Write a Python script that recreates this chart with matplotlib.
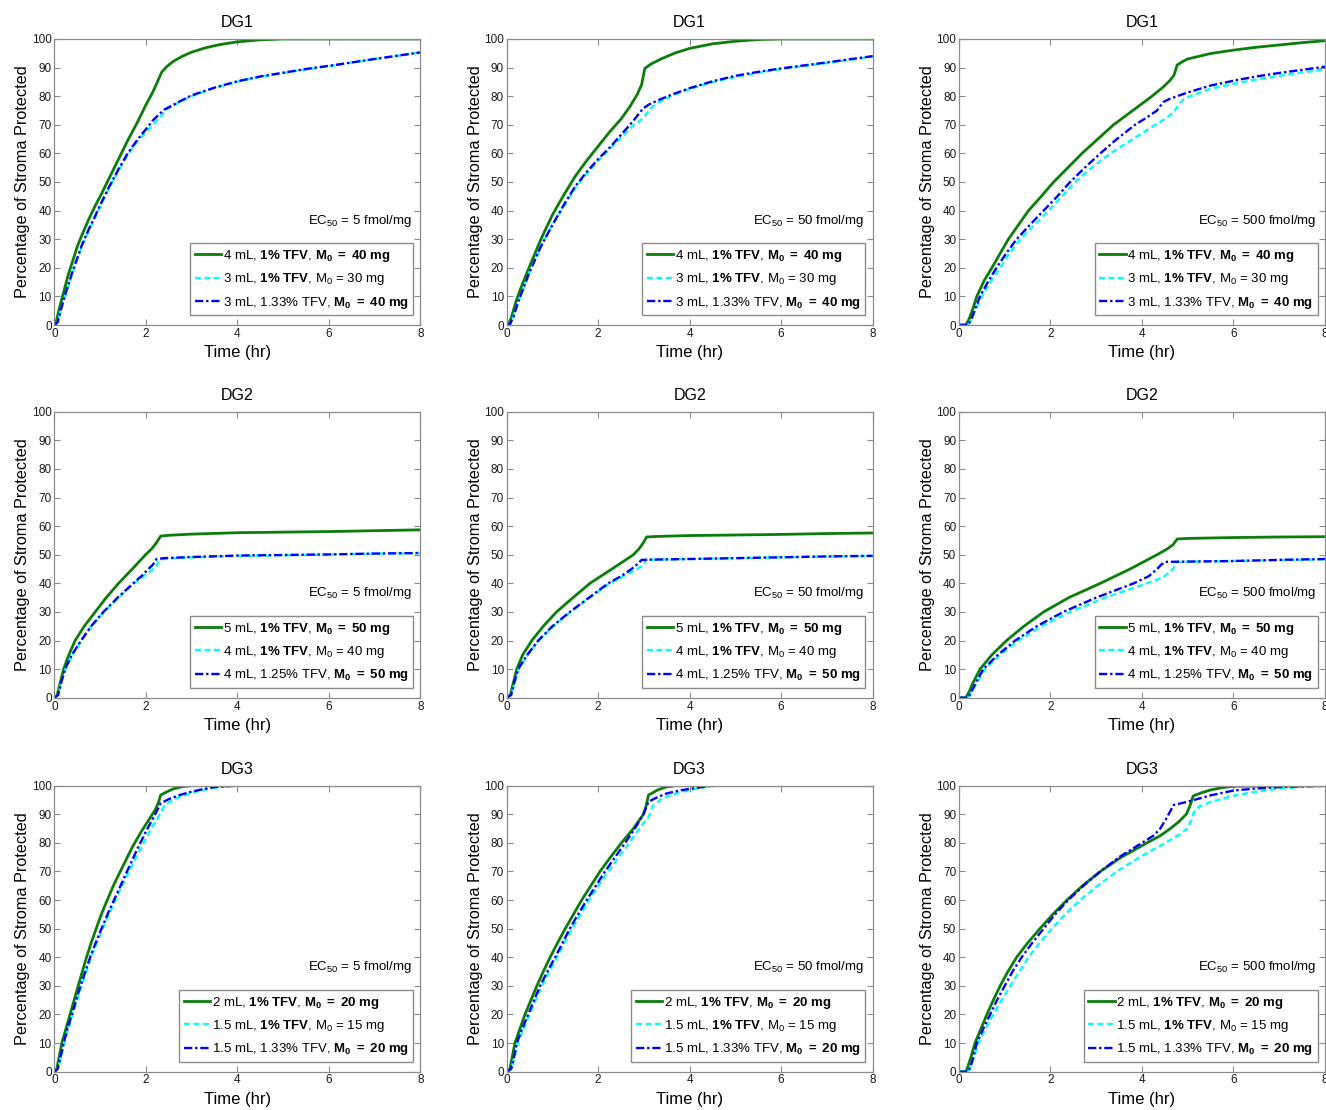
import numpy as np
import matplotlib
matplotlib.use("Agg")
import matplotlib.pyplot as plt

plt.rcParams['font.family'] = ['Liberation Sans', 'DejaVu Sans']
plt.rcParams['mathtext.fontset'] = 'custom'
plt.rcParams['mathtext.rm'] = 'Liberation Sans'
plt.rcParams['mathtext.it'] = 'Liberation Sans:italic'
plt.rcParams['mathtext.bf'] = 'Liberation Sans:bold'

# (time in hr, percent of stroma protected) along each curve
# --- DG1 ---
dg1_ec5_green = [(0, 0), (0.05, 2), (0.1, 5.5), (0.2, 11.5), (0.3, 17.5), (0.4, 22.5), (0.5, 27.5),
                 (0.6, 31.5), (0.75, 37), (0.9, 42), (1.0, 45), (1.2, 51.5), (1.4, 58), (1.6, 64.5),
                 (1.8, 70.5), (2.0, 77), (2.15, 81.5), (2.25, 85), (2.34, 88.3), (2.45, 90.3), (2.6, 92.2),
                 (2.8, 94), (3.0, 95.4), (3.3, 96.9), (3.6, 98), (4.0, 99), (4.5, 99.7), (5.0, 100), (8.0, 100)]
dg1_ec5_cyan = [(0, 0), (0.07, 1), (0.15, 6), (0.25, 11), (0.4, 18.5), (0.5, 23), (0.6, 27.5), (0.75, 33),
                (0.9, 38), (1.0, 41.5), (1.2, 48), (1.4, 54), (1.6, 59.5), (1.8, 64), (2.0, 67.5),
                (2.15, 70), (2.3, 72.5), (2.45, 75.3), (2.6, 76.8), (2.8, 78.5), (3.0, 80.1), (3.5, 82.9),
                (4.0, 85.1), (4.5, 86.8), (5.0, 88.1), (5.5, 89.4), (6.0, 90.5), (7.0, 93), (8.0, 95.3)]
dg1_ec5_blue = [(0, 0), (0.07, 1), (0.15, 6), (0.25, 11.5), (0.4, 19), (0.5, 23.5), (0.6, 28), (0.75, 33.5),
                (0.9, 38.5), (1.0, 42), (1.2, 48.5), (1.4, 54.5), (1.6, 60), (1.8, 64.5), (2.0, 68.5),
                (2.15, 71.5), (2.27, 73.4), (2.4, 75.3), (2.6, 77), (2.8, 78.7), (3.0, 80.3), (3.5, 83),
                (4.0, 85.2), (4.5, 86.9), (5.0, 88.2), (5.5, 89.5), (6.0, 90.6), (7.0, 93), (8.0, 95.3)]

dg1_ec50_green = [(0, 0), (0.05, 0.5), (0.1, 2.5), (0.2, 8), (0.3, 12.5), (0.5, 20.5), (0.75, 30), (1.0, 38.5),
                  (1.25, 45.5), (1.5, 52), (1.75, 57.5), (2.0, 62.5), (2.25, 67.5), (2.5, 72), (2.7, 76.5),
                  (2.85, 80.5), (2.95, 84), (3.02, 89.7), (3.15, 91.2), (3.4, 93.2), (3.7, 95.2), (4.0, 96.7),
                  (4.5, 98.3), (5.0, 99.2), (5.5, 99.8), (6.0, 100), (8.0, 100)]
dg1_ec50_cyan = [(0, 0), (0.08, 0.5), (0.15, 3), (0.25, 8), (0.5, 18.5), (0.75, 27.5), (1.0, 35), (1.25, 41.5),
                 (1.5, 48), (1.75, 53), (2.0, 57.5), (2.25, 61.5), (2.5, 65.5), (2.75, 69.5), (3.0, 72.5),
                 (3.06, 74), (3.15, 75.8), (3.3, 77.6), (3.6, 80.1), (4.0, 82.5), (4.5, 84.9), (5.0, 86.8),
                 (5.5, 88.2), (6.0, 89.5), (7.0, 91.6), (8.0, 93.8)]
dg1_ec50_blue = [(0, 0), (0.08, 0.5), (0.15, 3), (0.25, 8), (0.5, 18.5), (0.75, 27.5), (1.0, 35), (1.25, 42),
                 (1.5, 48.5), (1.75, 53.5), (2.0, 58), (2.25, 62), (2.5, 66.5), (2.75, 71), (2.97, 75.5),
                 (3.1, 77), (3.3, 78.5), (3.6, 80.5), (4.0, 82.8), (4.5, 85.2), (5.0, 87.1), (5.5, 88.5),
                 (6.0, 89.7), (7.0, 91.8), (8.0, 94)]

dg1_ec500_green = [(0, 0), (0.15, 0), (0.22, 2), (0.3, 5.5), (0.39, 10), (0.55, 15.5), (0.72, 20), (0.9, 25),
                   (1.08, 30), (1.3, 35), (1.52, 40), (1.8, 45), (2.07, 50), (2.38, 55), (2.69, 60), (3.0, 64.5),
                   (3.38, 70), (3.8, 75), (4.22, 80), (4.45, 83), (4.6, 85.3), (4.7, 87.3), (4.77, 90.9),
                   (4.9, 92.2), (5.0, 93), (5.5, 94.9), (6.0, 96.1), (6.5, 97.1), (7.0, 97.9), (7.5, 98.7),
                   (8.0, 99.4)]
dg1_ec500_cyan = [(0, 0), (0.2, 0), (0.27, 2), (0.37, 5.5), (0.5, 10), (0.68, 15), (0.9, 20), (1.1, 25),
                  (1.34, 30), (1.65, 35), (1.96, 40), (2.25, 45), (2.54, 50), (2.9, 55), (3.31, 60), (3.8, 65),
                  (4.29, 70), (4.55, 72.5), (4.7, 74.5), (4.8, 77), (4.9, 78.8), (5.06, 80), (5.5, 82.6),
                  (6.0, 84.3), (6.5, 85.8), (7.0, 87.1), (7.5, 88.3), (8.0, 89.3)]
dg1_ec500_blue = [(0, 0), (0.2, 0), (0.27, 2), (0.35, 5.5), (0.46, 10), (0.63, 15), (0.82, 20), (1.03, 25),
                  (1.26, 30), (1.55, 35), (1.85, 40), (2.15, 45), (2.43, 50), (2.75, 55), (3.09, 60), (3.45, 65),
                  (3.85, 70), (4.1, 72.5), (4.33, 75), (4.47, 78), (4.6, 79), (4.77, 80), (5.0, 81.3),
                  (5.5, 83.7), (6.0, 85.4), (6.5, 86.9), (7.0, 88.1), (7.5, 89.2), (8.0, 90.3)]

# --- DG2 ---
dg2_ec5_green = [(0, 0), (0.06, 1), (0.12, 5), (0.2, 10), (0.3, 14.5), (0.45, 20), (0.65, 25), (0.89, 30),
                 (1.13, 35), (1.4, 40), (1.7, 45), (1.99, 50), (2.12, 52), (2.22, 54), (2.32, 56.5), (2.5, 56.8),
                 (3.0, 57.2), (4.0, 57.7), (5.0, 57.9), (6.0, 58.1), (7.0, 58.4), (8.0, 58.7)]
dg2_ec5_cyan = [(0, 0), (0.08, 1), (0.15, 5.5), (0.24, 10), (0.39, 15), (0.59, 20), (0.81, 25), (1.08, 30),
                (1.4, 35), (1.74, 40), (1.95, 42.5), (2.12, 44.5), (2.22, 46), (2.3, 48.3), (2.5, 48.7),
                (3.0, 49.1), (4.0, 49.6), (5.0, 49.8), (6.0, 50.1), (7.0, 50.4), (8.0, 50.6)]
dg2_ec5_blue = [(0, 0), (0.08, 1), (0.15, 5.5), (0.23, 10), (0.38, 15), (0.58, 20), (0.8, 25), (1.07, 30),
                (1.38, 35), (1.72, 40), (1.9, 42.5), (2.05, 45), (2.15, 46.5), (2.23, 48.5), (2.4, 48.8),
                (3.0, 49.2), (4.0, 49.7), (5.0, 49.9), (6.0, 50.1), (7.0, 50.4), (8.0, 50.6)]

dg2_ec50_green = [(0, 0), (0.08, 1), (0.15, 5.5), (0.22, 10), (0.35, 15), (0.55, 20), (0.8, 25), (1.09, 30),
                  (1.45, 35), (1.82, 40), (2.3, 45), (2.77, 50), (2.89, 52), (2.98, 54), (3.06, 56.2),
                  (3.3, 56.4), (4.0, 56.7), (5.0, 56.9), (6.0, 57.1), (7.0, 57.4), (8.0, 57.6)]
dg2_ec50_cyan = [(0, 0), (0.1, 1), (0.18, 5.5), (0.26, 10), (0.46, 15), (0.7, 20), (1.02, 25), (1.4, 30),
                 (1.82, 35), (2.25, 40), (2.55, 42.5), (2.8, 44.5), (2.95, 46), (3.06, 48.2), (3.3, 48.3),
                 (4.0, 48.5), (5.0, 48.8), (6.0, 49.1), (7.0, 49.4), (8.0, 49.6)]
dg2_ec50_blue = [(0, 0), (0.1, 1), (0.17, 5.5), (0.25, 10), (0.45, 15), (0.69, 20), (1.0, 25), (1.38, 30),
                 (1.8, 35), (2.22, 40), (2.5, 42.5), (2.73, 45), (2.88, 47), (2.95, 48.2), (3.2, 48.3),
                 (4.0, 48.5), (5.0, 48.8), (6.0, 49.1), (7.0, 49.4), (8.0, 49.6)]

dg2_ec500_green = [(0, 0), (0.15, 0), (0.22, 2), (0.3, 5), (0.46, 10), (0.72, 15), (1.04, 20), (1.42, 25),
                   (1.85, 30), (2.4, 35), (3.09, 40), (3.74, 45), (4.33, 50), (4.55, 52), (4.68, 53.5),
                   (4.77, 55.5), (5.0, 55.7), (6.0, 56), (7.0, 56.2), (8.0, 56.3)]
dg2_ec500_cyan = [(0, 0), (0.2, 0), (0.27, 2), (0.38, 5), (0.57, 10), (0.9, 15), (1.3, 20), (1.8, 25),
                  (2.43, 30), (3.2, 35), (4.11, 40), (4.45, 42), (4.62, 44), (4.72, 46), (4.77, 47.5),
                  (5.0, 47.6), (6.0, 47.8), (7.0, 48.1), (8.0, 48.4)]
dg2_ec500_blue = [(0, 0), (0.2, 0), (0.27, 2), (0.36, 5), (0.53, 10), (0.85, 15), (1.23, 20), (1.7, 25),
                  (2.28, 30), (3.0, 35), (3.82, 40), (4.15, 42.5), (4.33, 45), (4.42, 46.5), (4.51, 47.5),
                  (5.0, 47.6), (6.0, 47.8), (7.0, 48.2), (8.0, 48.5)]

# --- DG3 ---
dg3_ec5_green = [(0, 0), (0.05, 1), (0.1, 5), (0.16, 10), (0.25, 15), (0.34, 20), (0.42, 24.5), (0.5, 29),
                 (0.6, 34.5), (0.7, 40), (0.8, 45), (0.9, 49.5), (1.0, 54), (1.1, 58), (1.3, 65.5), (1.5, 72),
                 (1.7, 78.5), (1.9, 84), (2.1, 89), (2.2, 91.5), (2.27, 94), (2.32, 96.7), (2.45, 97.8),
                 (2.6, 98.9), (2.8, 99.7), (3.0, 100), (8.0, 100)]
dg3_ec5_cyan = [(0, 0), (0.07, 1), (0.14, 5), (0.21, 10), (0.31, 15.5), (0.41, 21), (0.5, 25.5), (0.61, 31),
                (0.81, 40.5), (1.0, 48), (1.2, 55.5), (1.4, 62.5), (1.6, 69), (1.8, 75.5), (2.0, 81.5),
                (2.15, 86), (2.25, 88.5), (2.32, 90.5), (2.4, 93), (2.6, 95.2), (3.0, 97.6),
                (3.5, 99.3), (3.8, 99.9), (4.0, 100), (8.0, 100)]
dg3_ec5_blue = [(0, 0), (0.07, 1), (0.13, 5), (0.2, 10), (0.3, 16), (0.4, 21), (0.5, 26.5), (0.6, 31.5),
                (0.8, 41), (1.0, 49), (1.2, 56.5), (1.4, 63.5), (1.6, 70.5), (1.8, 77.5), (2.0, 84),
                (2.2, 90), (2.32, 93.8), (2.5, 95.3), (2.75, 96.8), (3.0, 97.9), (3.25, 98.8), (3.5, 99.5),
                (4.0, 100), (8.0, 100)]

dg3_ec50_green = [(0, 0), (0.07, 1), (0.12, 5), (0.18, 10), (0.29, 15), (0.4, 20), (0.53, 25), (0.66, 30),
                  (0.8, 35), (0.95, 40), (1.11, 45), (1.28, 50), (1.46, 55), (1.64, 60), (1.84, 65), (2.04, 70),
                  (2.27, 75), (2.51, 80), (2.77, 85), (2.99, 90), (3.05, 93), (3.1, 96.7), (3.3, 98.5),
                  (3.5, 99.6), (3.7, 100), (8.0, 100)]
dg3_ec50_cyan = [(0, 0), (0.1, 1), (0.17, 5), (0.24, 10), (0.37, 15), (0.5, 20), (0.63, 25), (0.77, 30),
                 (0.93, 35), (1.1, 40), (1.26, 45), (1.43, 50), (1.61, 55), (1.8, 60), (2.0, 65), (2.22, 70),
                 (2.45, 75), (2.68, 80), (2.9, 85), (3.1, 89), (3.2, 93), (3.35, 95), (3.5, 96.2), (3.75, 97.5),
                 (4.0, 98.5), (4.3, 99.4), (4.6, 100), (8.0, 100)]
dg3_ec50_blue = [(0, 0), (0.1, 1), (0.16, 5), (0.22, 10), (0.34, 15), (0.47, 20), (0.6, 25), (0.73, 30),
                 (0.89, 35), (1.06, 40), (1.22, 45), (1.38, 50), (1.56, 55), (1.75, 60), (1.95, 65), (2.15, 70),
                 (2.37, 75), (2.59, 80), (2.8, 85), (2.99, 90), (3.1, 94.4), (3.3, 96), (3.5, 97.3),
                 (3.75, 98.2), (4.0, 98.9), (4.5, 100), (8.0, 100)]

dg3_ec500_green = [(0, 0), (0.15, 0), (0.2, 2), (0.26, 5), (0.35, 10), (0.48, 15), (0.61, 20), (0.75, 25),
                   (0.9, 30), (1.07, 35), (1.26, 40), (1.5, 45), (1.77, 50), (2.05, 55), (2.36, 60), (2.7, 65),
                   (3.09, 70), (3.55, 75), (4.11, 80), (4.4, 82.5), (4.62, 85), (4.8, 87.3), (4.97, 90),
                   (5.05, 93), (5.12, 96.4), (5.3, 97.5), (5.5, 98.5), (5.75, 99.3), (6.0, 99.8), (8.0, 100)]
dg3_ec500_cyan = [(0, 0), (0.2, 0), (0.26, 2), (0.33, 5), (0.42, 10), (0.58, 15), (0.75, 20), (0.93, 25),
                  (1.12, 30), (1.32, 35), (1.52, 40), (1.76, 45), (2.03, 50), (2.32, 55), (2.65, 60), (3.03, 65),
                  (3.45, 70), (3.95, 75), (4.51, 80), (4.78, 82.5), (4.99, 85), (5.08, 88), (5.13, 90.5),
                  (5.25, 92.7), (5.5, 94.3), (6.0, 96.5), (6.5, 97.9), (7.0, 99), (7.5, 99.6), (8.0, 99.8)]
dg3_ec500_blue = [(0, 0), (0.2, 0), (0.26, 2), (0.31, 5), (0.39, 10), (0.53, 15), (0.68, 20), (0.83, 25),
                  (1.0, 30), (1.17, 35), (1.37, 40), (1.6, 45), (1.85, 50), (2.1, 55), (2.39, 60), (2.72, 65),
                  (3.09, 70), (3.5, 75), (4.0, 80), (4.25, 82.5), (4.4, 85), (4.55, 89), (4.69, 93.2),
                  (5.0, 94.4), (5.5, 96.6), (6.0, 98.3), (6.5, 99), (7.0, 99.5), (8.0, 100)]

titles = ['DG1', 'DG2', 'DG3']
ec50_values = [5, 50, 500]

legend_dg1 = [r'4 mL, $\mathbf{1\%\ TFV}$, $\mathbf{M_0\ =\ 40\ mg}$',
              r'3 mL, $\mathbf{1\%\ TFV}$, $\mathrm{M_0}$ = 30 mg',
              r'3 mL, 1.33% TFV, $\mathbf{M_0\ =\ 40\ mg}$']
legend_dg2 = [r'5 mL, $\mathbf{1\%\ TFV}$, $\mathbf{M_0\ =\ 50\ mg}$',
              r'4 mL, $\mathbf{1\%\ TFV}$, $\mathrm{M_0}$ = 40 mg',
              r'4 mL, 1.25% TFV, $\mathbf{M_0\ =\ 50\ mg}$']
legend_dg3 = [r'2 mL, $\mathbf{1\%\ TFV}$, $\mathbf{M_0\ =\ 20\ mg}$',
              r'1.5 mL, $\mathbf{1\%\ TFV}$, $\mathrm{M_0}$ = 15 mg',
              r'1.5 mL, 1.33% TFV, $\mathbf{M_0\ =\ 20\ mg}$']

curves = [
    [(dg1_ec5_green, dg1_ec5_cyan, dg1_ec5_blue),
     (dg1_ec50_green, dg1_ec50_cyan, dg1_ec50_blue),
     (dg1_ec500_green, dg1_ec500_cyan, dg1_ec500_blue)],
    [(dg2_ec5_green, dg2_ec5_cyan, dg2_ec5_blue),
     (dg2_ec50_green, dg2_ec50_cyan, dg2_ec50_blue),
     (dg2_ec500_green, dg2_ec500_cyan, dg2_ec500_blue)],
    [(dg3_ec5_green, dg3_ec5_cyan, dg3_ec5_blue),
     (dg3_ec50_green, dg3_ec50_cyan, dg3_ec50_blue),
     (dg3_ec500_green, dg3_ec500_cyan, dg3_ec500_blue)],
]
legends = [legend_dg1, legend_dg2, legend_dg3]

styles = [dict(color='#0a7d0a', ls='-', lw=2.0),
          dict(color='#00ffff', ls=(0, (2.5, 1.5)), lw=1.7),
          dict(color='#0000ff', ls=(0, (3.5, 1.2, 1.0, 1.2)), lw=1.7)]

fig = plt.figure(figsize=(13.26, 11.10), dpi=100)

lefts = [0.0411, 0.3821, 0.7232]
bottoms = [0.7072, 0.3714, 0.0345]
w, h = 0.276, 0.2577
spine_col = '#8c8c8c'

for r in range(3):
    for c in range(3):
        ax = fig.add_axes([lefts[c], bottoms[r], w, h])
        for data, st in zip(curves[r][c], styles):
            arr = np.array(data)
            ax.plot(arr[:, 0], arr[:, 1], solid_joinstyle='round', **st)
        ax.set_xlim(0, 8)
        ax.set_ylim(0, 100)
        ax.set_xticks([0, 2, 4, 6, 8])
        ax.set_yticks(np.arange(0, 101, 10))
        ax.tick_params(direction='in', top=True, right=True, length=4, width=0.8,
                       color=spine_col, labelsize=8.5, labelcolor='#1a1a1a', pad=2)
        for s in ax.spines.values():
            s.set_color(spine_col)
            s.set_linewidth(0.9)
        ax.set_title(titles[r], fontsize=11.5, pad=8.5)
        ax.set_xlabel('Time (hr)', fontsize=12, labelpad=4)
        ax.set_ylabel('Percentage of Stroma Protected', fontsize=11.7, labelpad=1)
        ax.text(0.977, 0.365, r'EC$_\mathrm{50}$ = %d fmol/mg' % ec50_values[c],
                transform=ax.transAxes, ha='right', va='center', fontsize=9.5)
        leg = ax.legend(legends[r], loc='upper right', bbox_to_anchor=(0.98, 0.285),
                        fontsize=9.5, frameon=True, fancybox=False, framealpha=1,
                        edgecolor='#8c8c8c', handlelength=2.0, handletextpad=0.1,
                        labelspacing=0.55, borderpad=0.35, borderaxespad=0)
        leg.get_frame().set_linewidth(1.0)

fig.savefig('out.png', dpi=100)
